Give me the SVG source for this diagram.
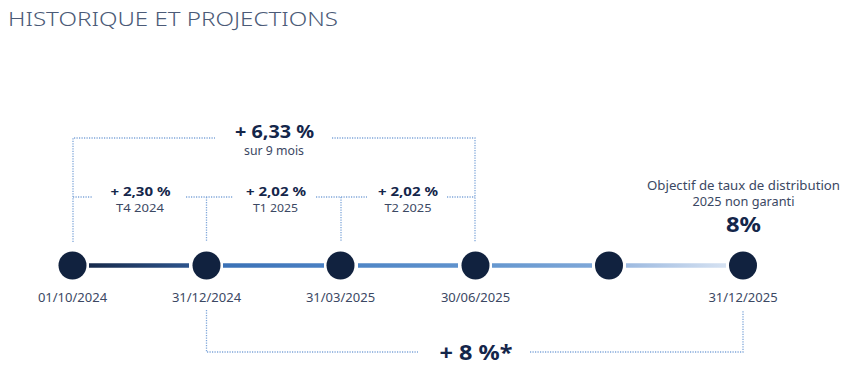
<svg xmlns="http://www.w3.org/2000/svg" width="850" height="382" viewBox="0 0 850 382">
<defs>
<style>
.t{font-family:"Noto Sans","Liberation Sans",sans-serif;}
.title{font-size:20px;font-weight:300;fill:#4b5a77;}
.date{font-size:13px;fill:#3b4863;text-anchor:middle;}
.big{font-weight:700;fill:#14264a;text-anchor:middle;}
.sub{font-size:12px;fill:#3b4863;text-anchor:middle;}
.q{font-size:11px;}
.dot{fill:none;stroke:#7fa6d9;stroke-width:1.3;stroke-dasharray:1.2 1.3;}
.node{fill:#11223f;}
.seg{stroke-width:4.5;fill:none;}
</style>
<linearGradient id="g1" gradientUnits="userSpaceOnUse" x1="89" y1="0" x2="189" y2="0"><stop offset="0" stop-color="#172a4b"/><stop offset="1" stop-color="#2d548c"/></linearGradient>
<linearGradient id="g2" gradientUnits="userSpaceOnUse" x1="223" y1="0" x2="324" y2="0"><stop offset="0" stop-color="#3a71b6"/><stop offset="1" stop-color="#4a80c3"/></linearGradient>
<linearGradient id="g3" gradientUnits="userSpaceOnUse" x1="358" y1="0" x2="458" y2="0"><stop offset="0" stop-color="#4f86c6"/><stop offset="1" stop-color="#5f92cd"/></linearGradient>
<linearGradient id="g4" gradientUnits="userSpaceOnUse" x1="492" y1="0" x2="592" y2="0"><stop offset="0" stop-color="#6597cf"/><stop offset="1" stop-color="#7ea7d8"/></linearGradient>
<linearGradient id="g5" gradientUnits="userSpaceOnUse" x1="626" y1="0" x2="726" y2="0"><stop offset="0" stop-color="#9dbae0"/><stop offset="1" stop-color="#d6e2f2"/></linearGradient>
</defs>
<rect width="850" height="382" fill="#ffffff"/>
<text class="t title" x="8" y="26" textLength="330" lengthAdjust="spacingAndGlyphs">HISTORIQUE ET PROJECTIONS</text>

<g id="connectors">
<line class="seg" x1="89" y1="265.5" x2="189" y2="265.5" stroke="url(#g1)"/>
<line class="seg" x1="223" y1="265.5" x2="324" y2="265.5" stroke="url(#g2)"/>
<line class="seg" x1="358" y1="265.5" x2="458" y2="265.5" stroke="url(#g3)"/>
<line class="seg" x1="492" y1="265.5" x2="592" y2="265.5" stroke="url(#g4)"/>
<line class="seg" x1="626" y1="265.5" x2="726" y2="265.5" stroke="url(#g5)"/>
<path class="dot" d="M73 242 V138 H215"/>
<path class="dot" d="M332 138 H475 V242"/>
<path class="dot" d="M73 197 H93"/>
<path class="dot" d="M186 197 H233"/>
<path class="dot" d="M316 197 H367"/>
<path class="dot" d="M447 197 H475"/>
<path class="dot" d="M206.5 197 V242"/>
<path class="dot" d="M341 197 V242"/>
<path class="dot" d="M206.5 310 V352 H418"/>
<path class="dot" d="M530 352 H743 V310"/>
</g>

<g id="n1"><circle class="node" cx="72.5" cy="265.5" r="14"/><text class="t date" x="72.5" y="302">01/10/2024</text></g>
<g id="n2"><circle class="node" cx="206.5" cy="265.5" r="14"/><text class="t date" x="206.5" y="302">31/12/2024</text></g>
<g id="n3"><circle class="node" cx="340.5" cy="265.5" r="14"/><text class="t date" x="340.5" y="302">31/03/2025</text></g>
<g id="n4"><circle class="node" cx="475.5" cy="265.5" r="14"/><text class="t date" x="475.5" y="302">30/06/2025</text></g>
<g id="n5"><circle class="node" cx="609" cy="265.5" r="14"/></g>
<g id="n6"><circle class="node" cx="743" cy="265.5" r="14"/><text class="t date" x="743" y="302">31/12/2025</text></g>

<g id="l-total">
<text class="t big" x="274.5" y="137.5" font-size="18" textLength="79" lengthAdjust="spacingAndGlyphs">+ 6,33 %</text>
<text class="t sub" x="274" y="154.5" textLength="60" lengthAdjust="spacingAndGlyphs">sur 9 mois</text>
</g>
<g id="l-t4">
<text class="t big" x="140.5" y="196" font-size="13" textLength="60" lengthAdjust="spacingAndGlyphs">+ 2,30 %</text>
<text class="t sub q" x="140" y="211.5" textLength="48" lengthAdjust="spacingAndGlyphs">T4 2024</text>
</g>
<g id="l-t1">
<text class="t big" x="276" y="196" font-size="13" textLength="60" lengthAdjust="spacingAndGlyphs">+ 2,02 %</text>
<text class="t sub q" x="275.5" y="211.5" textLength="45" lengthAdjust="spacingAndGlyphs">T1 2025</text>
</g>
<g id="l-t2">
<text class="t big" x="408" y="196" font-size="13" textLength="60" lengthAdjust="spacingAndGlyphs">+ 2,02 %</text>
<text class="t sub q" x="408" y="211.5" textLength="47" lengthAdjust="spacingAndGlyphs">T2 2025</text>
</g>
<g id="l-objectif">
<text class="t sub" x="743.5" y="190" font-size="12" textLength="193" lengthAdjust="spacingAndGlyphs">Objectif de taux de distribution</text>
<text class="t sub" x="743.5" y="206" font-size="11.5" textLength="102" lengthAdjust="spacingAndGlyphs">2025 non garanti</text>
<text class="t big" x="743.5" y="231.5" font-size="22" textLength="35" lengthAdjust="spacingAndGlyphs">8%</text>
</g>
<g id="l-8">
<text class="t big" x="476" y="359.5" font-size="21" textLength="73" lengthAdjust="spacingAndGlyphs">+ 8 %*</text>
</g>
</svg>
